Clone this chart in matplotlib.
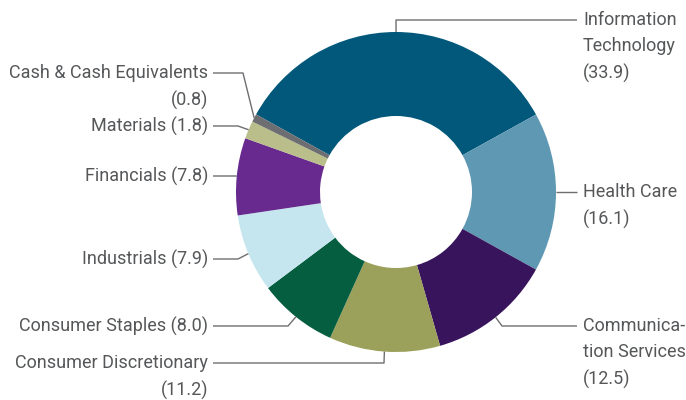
'''
Donut chart of sector weights
'''
import matplotlib
matplotlib.use('Agg')
import numpy as np
import matplotlib.pyplot as plt

sectors = ['Information Technology', 'Health Care', 'Communication Services',
           'Consumer Discretionary', 'Consumer Staples', 'Industrials',
           'Financials', 'Materials', 'Cash & Cash Equivalents']
weights = [33.9, 16.1, 12.5, 11.2, 8.0, 7.9, 7.8, 1.8, 0.8]
label_texts = ['Information\nTechnology\n(33.9)', 'Health Care\n(16.1)',
               'Communica-\ntion Services\n(12.5)', 'Consumer Discretionary\n(11.2)',
               'Consumer Staples (8.0)', 'Industrials (7.9)', 'Financials (7.8)',
               'Materials (1.8)', 'Cash & Cash Equivalents\n(0.8)']
colors = ['#02587a', '#5e98b3', '#37145c', '#9ba05a', '#055e3f',
          '#c5e6ef', '#682a8f', '#b9be8a', '#6d6e71']

# label layout: (elbow x, elbow y, text x, text y, side) in pixel coords
layout = [
    (396, 20, 577, 20, 'right'),
    (556, 192, 577, 192, 'right'),
    (502, 326, 577, 326, 'right'),
    (384, 363, 213, 363, 'left'),
    (288, 326, 213, 326, 'left'),
    (238, 259, 213, 259, 'left'),
    (236, 176, 213, 176, 'left'),
    (238, 126, 213, 126, 'left'),
    (243, 73, 213, 73, 'left'),
]

plt.rcParams['font.family'] = ['Roboto', 'DejaVu Sans']
TEXT = '#555759'
LINE = '#6d6e71'
FS = 13

fig = plt.figure(figsize=(6.86, 4.0), dpi=100)
ax = fig.add_axes([0, 0, 1, 1])
cx, cy, r = 396, 192, 160

wedges, _ = ax.pie(weights, colors=colors, center=(cx, cy), radius=r,
                   startangle=-151, counterclock=True,
                   wedgeprops=dict(width=84, linewidth=0))
ax.set_xlim(0, 686)
ax.set_ylim(400, 0)
ax.set_aspect('equal')
ax.axis('off')

for w, txt, (ex, ey, tx, ty, side) in zip(wedges, label_texts, layout):
    mid = np.deg2rad((w.theta1 + w.theta2) / 2)
    sx, sy = cx + r * np.cos(mid), cy + r * np.sin(mid)
    ax.plot([sx, ex, tx], [sy, ey, ty], color=LINE, lw=1, solid_capstyle='butt')
    if side == 'right':
        ax.text(tx + 6, ty - 9, txt, ha='left', va='top', color=TEXT,
                fontsize=FS, linespacing=1.58)
    else:
        ax.text(tx - 5, ty - 9, txt, ha='right', va='top', color=TEXT,
                fontsize=FS, linespacing=1.58, multialignment='right')

fig.savefig('out.png', dpi=100)
